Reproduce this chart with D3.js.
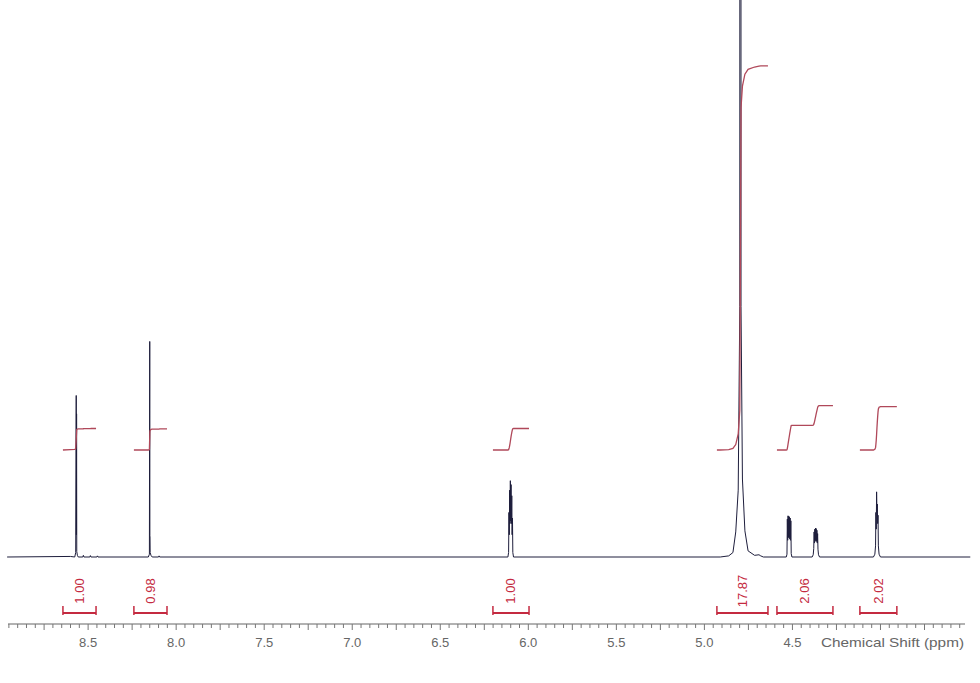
<!DOCTYPE html>
<html>
<head>
<meta charset="utf-8">
<script src="https://cdn.jsdelivr.net/npm/d3@7"></script>
<style>
  body { margin: 0; background: #fff; }
  svg { display: block; font-family: "Liberation Sans", Arial, sans-serif; }
</style>
</head>
<body>
<svg id="chart" width="980" height="683"></svg>
<script>
// 1H spectrum, [ppm, intensity in % of full scale]
const spectrum = [
  [8.960, 0], [8.600, 0.1],
  [8.576, 0], [8.5705, 0.8], [8.5675, 29.0], [8.5665, 4], [8.5655, 25.7], [8.5645, 1.0], [8.561, 0.3], [8.556, 0],
  [8.530, 0], [8.527, 0.3], [8.524, 0], [8.490, 0], [8.487, 0.25], [8.484, 0], [8.450, 0], [8.447, 0.2], [8.444, 0],
  [8.158, 0], [8.152, 0.5], [8.150, 38.7], [8.1492, 3.8], [8.1484, 3.6], [8.1476, 0.8], [8.143, 0.3], [8.136, 0],
  [8.100, 0], [8.097, 0.2], [8.094, 0],
  [6.116, 0], [6.112, 0.8], [6.110, 8], [6.108, 4], [6.106, 12], [6.104, 6], [6.102, 13.7], [6.100, 6.5],
  [6.098, 13], [6.096, 6], [6.094, 11], [6.092, 4], [6.090, 7], [6.088, 0.8], [6.084, 0],
  [4.910, 0], [4.862, 0.2], [4.838, 0.8], [4.822, 4.5], [4.808, 12], [4.799, 45], [4.7955, 900],
  [4.792, 45], [4.784, 14], [4.770, 4.7], [4.752, 1.1], [4.715, 0.3], [4.690, 0.4], [4.680, 0.2], [4.665, 0],
  [4.535, 0], [4.531, 0.5], [4.529, 6.8], [4.527, 3], [4.525, 7.4], [4.523, 3.5], [4.521, 7.3], [4.519, 3.5],
  [4.517, 7.2], [4.515, 3.2], [4.513, 7.0], [4.511, 3], [4.509, 6.5], [4.507, 0.6], [4.503, 0],
  [4.388, 0], [4.382, 0.4], [4.379, 1.5], [4.377, 4.5], [4.375, 2.5], [4.373, 5.0], [4.371, 2.8], [4.369, 5.2],
  [4.367, 3.0], [4.365, 5.1], [4.363, 2.8], [4.361, 4.8], [4.359, 2.5], [4.357, 4.2], [4.355, 1.4], [4.352, 0.4], [4.346, 0],
  [4.040, 0], [4.032, 0.5], [4.028, 2], [4.026, 8], [4.024, 5], [4.022, 11.7], [4.020, 8], [4.018, 9.5],
  [4.016, 6], [4.014, 7.5], [4.012, 2], [4.008, 0.5], [4.000, 0],
  [3.490, 0]
]

// integration regions [from, to] in ppm and their values
const integralRanges = [[8.643, 8.455], [8.240, 8.052], [6.201, 5.996], [4.929, 4.639], [4.588, 4.270], [4.117, 3.907]]
const integralValues = [1.00, 0.98, 1.00, 17.87, 2.06, 2.02]

const majorTicks = [8.5, 8.0, 7.5, 7.0, 6.5, 6.0, 5.5, 5.0, 4.5]
const axisTitle = "Chemical Shift (ppm)"

const svg = d3.select("#chart")

const x = d3.scaleLinear().domain([8.955, 3.52]).range([8, 965])
const y = d3.scaleLinear().domain([0, 100]).range([557, 0])

const specColor = "#1e1e3c"
const intColor = "#b0485a"
const bracketColor = "#c42a40"

svg.append("clipPath").attr("id", "plotClip")
  .append("rect").attr("x", 0).attr("y", 0).attr("width", 980).attr("height", 600)

// spectrum
const line = d3.line().x(d => x(d[0])).y(d => y(d[1]))
svg.append("path")
  .datum(spectrum)
  .attr("clip-path", "url(#plotClip)")
  .attr("fill", "none")
  .attr("stroke", specColor)
  .attr("stroke-width", 1)
  .attr("stroke-linejoin", "round")
  .attr("d", line)

// integral curves: cumulative area of the spectrum inside each region
const intBase = 450
const pxPerUnit = 21.5

function integralCurve(range, value) {
  const [a, b] = range
  const pts = spectrum.filter(d => d[0] <= a && d[0] >= b)
  pts.unshift([a, 0])
  pts.push([b, 0])
  let acc = 0
  const cum = [[a, 0]]
  for (let i = 1; i < pts.length; i++) {
    acc += (pts[i - 1][0] - pts[i][0]) * (pts[i - 1][1] + pts[i][1]) / 2
    cum.push([pts[i][0], acc])
  }
  return cum.map(d => [d[0], intBase - d[1] / acc * value * pxPerUnit])
}

integralRanges.forEach((r, i) => {
  svg.append("path")
    .datum(integralCurve(r, integralValues[i]))
    .attr("fill", "none")
    .attr("stroke", intColor)
    .attr("stroke-width", 1.3)
    .attr("d", d3.line().x(d => x(d[0])).y(d => d[1]))
})

// integral brackets and values
const brY = 613
const br = svg.append("g")
integralRanges.forEach((r, i) => {
  const x0 = x(r[0]), x1 = x(r[1])
  br.append("line").attr("x1", x0).attr("x2", x1).attr("y1", brY).attr("y2", brY)
    .attr("stroke", bracketColor).attr("stroke-width", 2)
  br.append("line").attr("x1", x0).attr("x2", x0).attr("y1", brY - 7).attr("y2", brY + 2)
    .attr("stroke", bracketColor).attr("stroke-width", 1.5)
  br.append("line").attr("x1", x1).attr("x2", x1).attr("y1", brY - 7).attr("y2", brY + 2)
    .attr("stroke", bracketColor).attr("stroke-width", 1.5)
  const cx = (x0 + x1) / 2
  br.append("text")
    .attr("transform", `translate(${cx + 4.5},591) rotate(-90)`)
    .attr("text-anchor", "middle")
    .attr("font-size", 13)
    .attr("fill", bracketColor)
    .text(integralValues[i].toFixed(2))
})

// axis
const axisY = 624
const ax = svg.append("g").attr("transform", `translate(0,${axisY})`)
ax.append("line").attr("x1", 8).attr("x2", 965).attr("stroke", "#666").attr("stroke-width", 1.2)

const minor = d3.range(0, 110).map(i => +(8.95 - i * 0.05).toFixed(2)).filter(v => x(v) >= 8 && x(v) <= 965)
ax.selectAll(".tick")
  .data(minor)
  .join("line")
  .attr("x1", d => x(d)).attr("x2", d => x(d))
  .attr("y1", 0)
  .attr("y2", d => Math.abs(d * 4 - Math.round(d * 4)) < 1e-6 ? 6 : 4)
  .attr("stroke", "#777")
  .attr("stroke-width", 1)

ax.selectAll(".lab")
  .data(majorTicks)
  .join("text")
  .attr("x", d => x(d))
  .attr("y", 23)
  .attr("text-anchor", "middle")
  .attr("font-size", 13)
  .attr("fill", "#666")
  .text(d => d.toFixed(1))

ax.append("text")
  .attr("x", 821)
  .attr("y", 23)
  .attr("font-size", 13)
  .attr("fill", "#666")
  .attr("textLength", 143)
  .attr("lengthAdjust", "spacingAndGlyphs")
  .text(axisTitle)
</script>
</body>
</html>
